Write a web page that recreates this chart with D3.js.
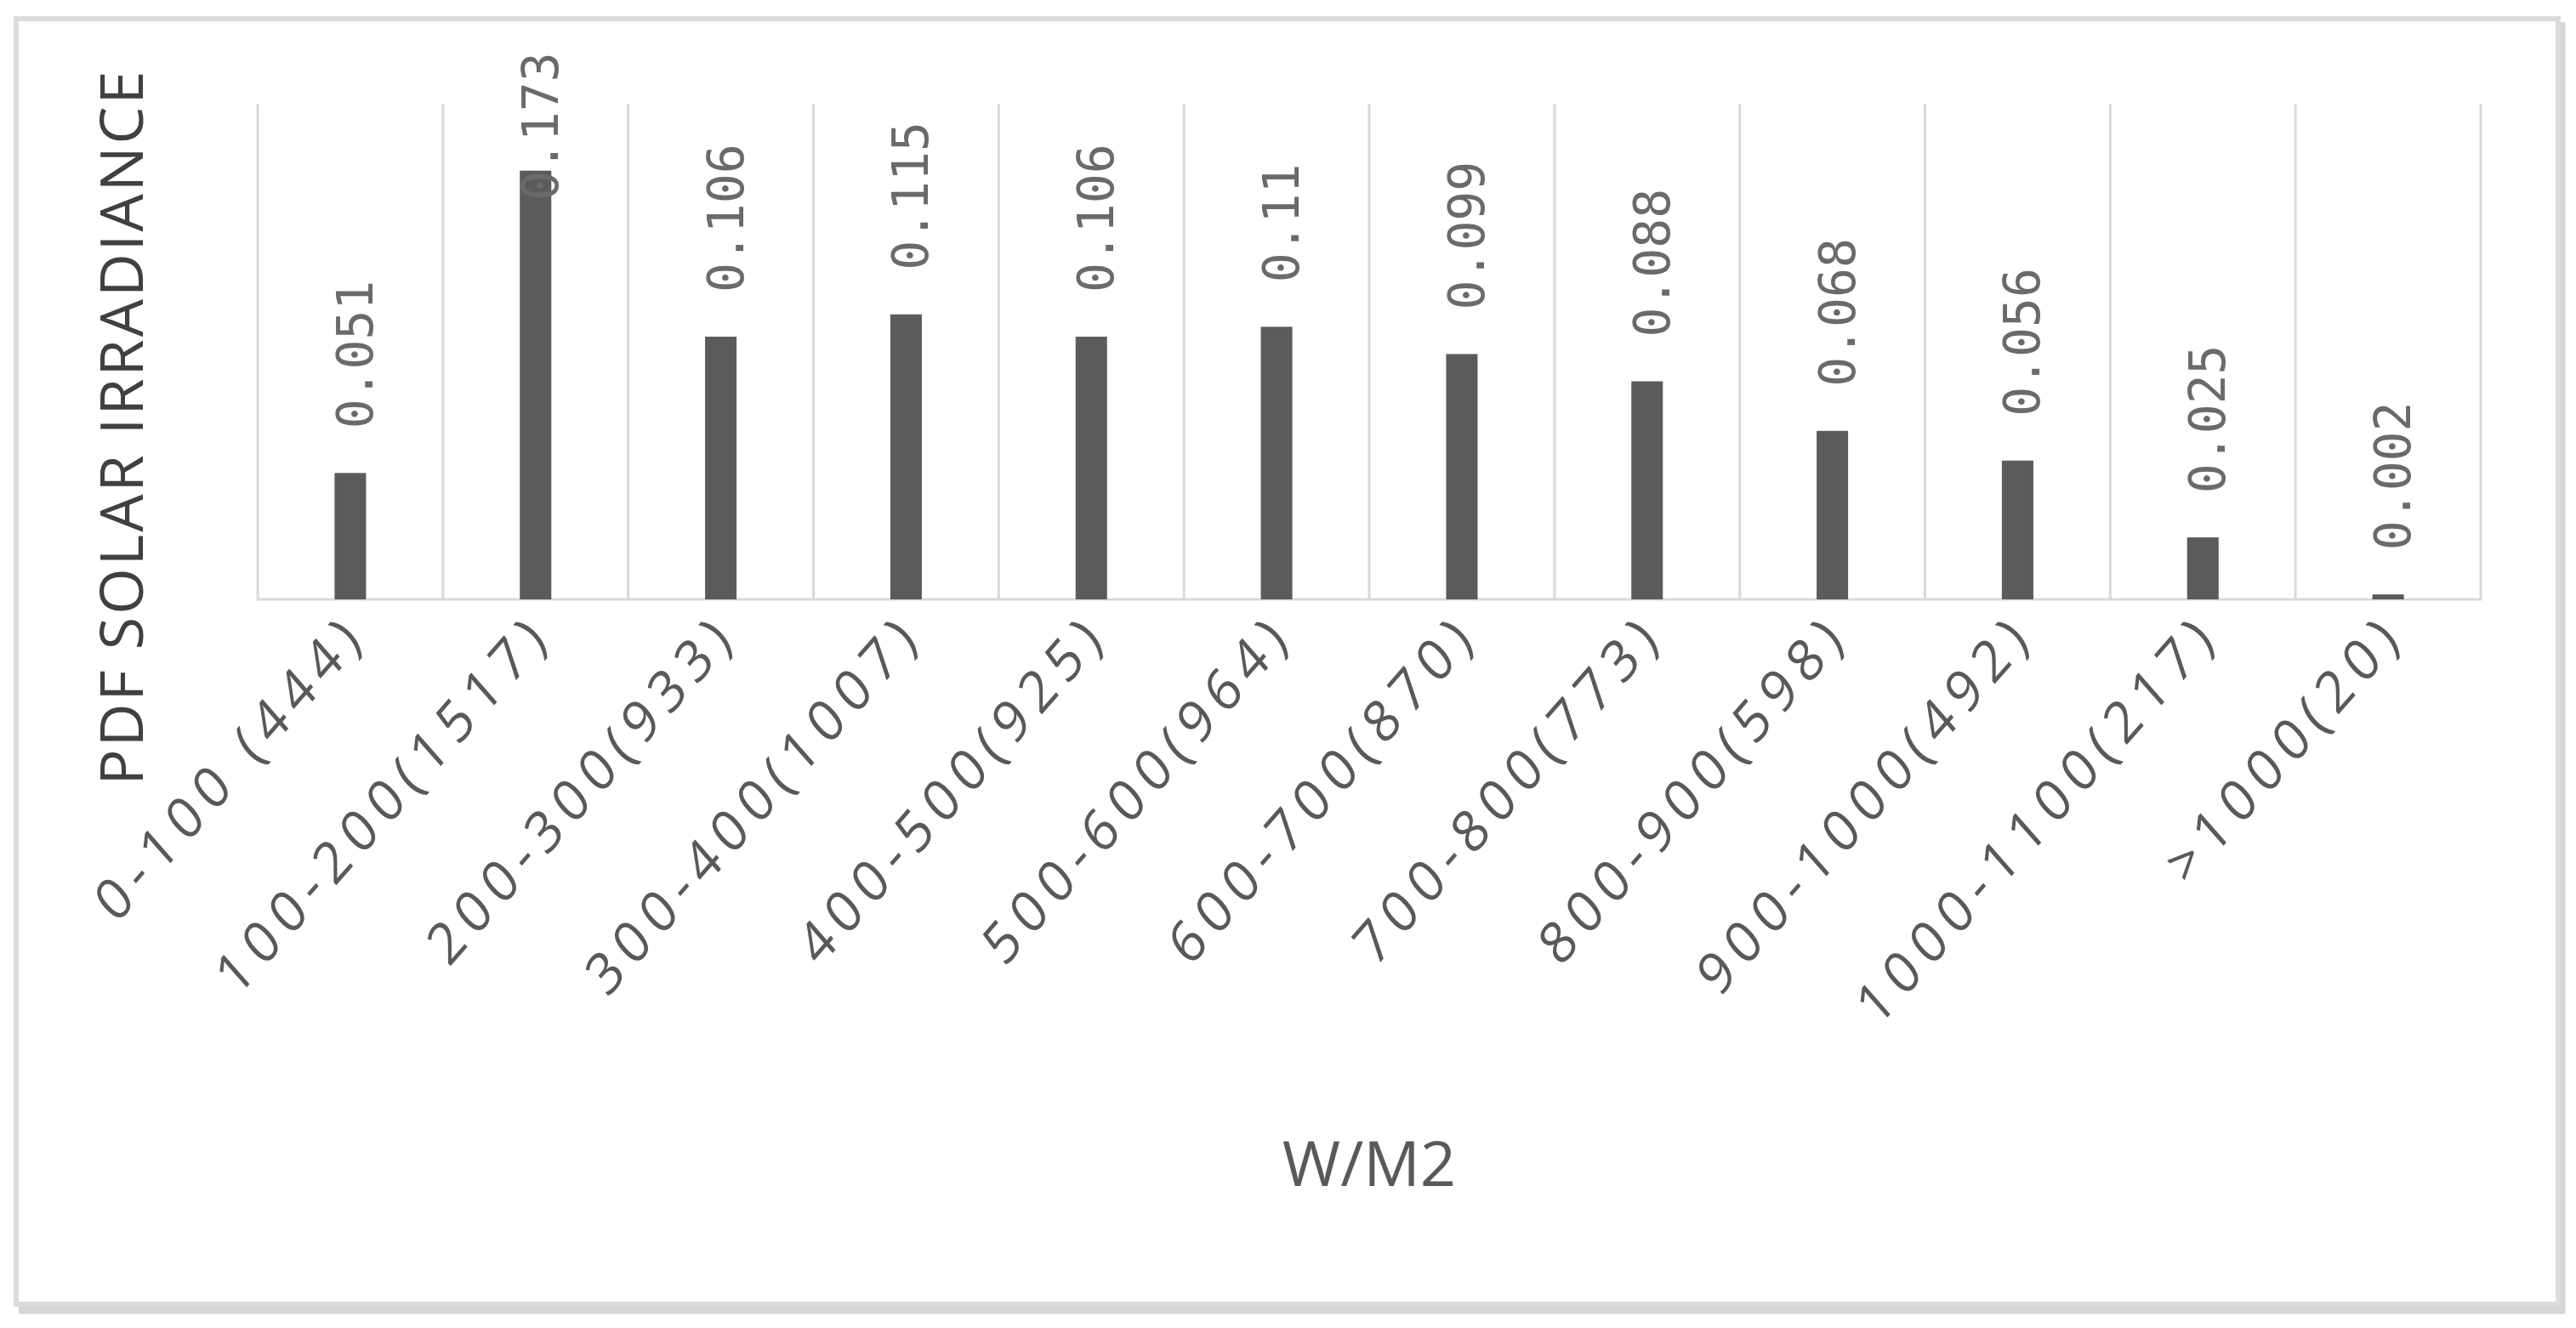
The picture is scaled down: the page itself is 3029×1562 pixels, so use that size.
<!DOCTYPE html>
<html>
<head>
<meta charset="utf-8">
<script src="https://cdnjs.cloudflare.com/ajax/libs/d3/7.8.5/d3.min.js"></script>
<style>
  body { margin: 0; background: #fff; }
  svg { display: block; }
</style>
</head>
<body>
<div class="container"></div>
<script>
const width = 3029,
    height = 1562,
    margin = { top: 122, right: 112, bottom: 857, left: 303 };

const categories = ['0-100 (444)', '100-200(1517)', '200-300(933)', '300-400(1007)', '400-500(925)',
    '500-600(964)', '600-700(870)', '700-800(773)', '800-900(598)', '900-1000(492)',
    '1000-1100(217)', '>1000(20)'];
const values = [0.051, 0.173, 0.106, 0.115, 0.106, 0.11, 0.099, 0.088, 0.068, 0.056, 0.025, 0.002];
const yDomain = [0, 0.2];
const yTitle = 'PDF SOLAR IRRADIANCE';
const xTitle = 'W/M2';

const data = categories.map((c, i) => ({ cat: c, val: values[i] }));

const svg = d3.select('.container')
    .append('svg')
    .attr('width', width)
    .attr('height', height);

// outer frame with a soft shadow on the right / bottom
svg.append('path')
    .attr('d', `M3012,26 V1541 H22`)
    .attr('fill', 'none')
    .attr('stroke', '#d6d6d6')
    .attr('stroke-width', 9);
svg.append('rect')
    .attr('x', 19).attr('y', 22)
    .attr('width', 2989).attr('height', 1512)
    .attr('fill', '#fff')
    .attr('stroke', '#dcdcdc')
    .attr('stroke-width', 6);

const x = d3.scaleBand()
    .domain(categories)
    .range([margin.left, width - margin.right]);

const y = d3.scaleLinear()
    .domain(yDomain)
    .range([height - margin.bottom, margin.top]);

const base = y(0);

// vertical gridlines between categories
const grid = svg.append('g').attr('class', 'grid');
grid.selectAll('line')
    .data(categories.concat(['__end']))
    .enter()
    .append('line')
    .attr('x1', d => d === '__end' ? x.range()[1] : x(d))
    .attr('x2', d => d === '__end' ? x.range()[1] : x(d))
    .attr('y1', y(yDomain[1]))
    .attr('y2', base)
    .attr('stroke', '#d9d9d9')
    .attr('stroke-width', 3);

grid.append('line')
    .attr('x1', x.range()[0] - 1.5)
    .attr('x2', x.range()[1] + 1.5)
    .attr('y1', base)
    .attr('y2', base)
    .attr('stroke', '#d9d9d9')
    .attr('stroke-width', 3);

const barW = x.bandwidth() * 0.17;

svg.append('g')
    .selectAll('rect')
    .data(data)
    .enter()
    .append('rect')
    .attr('x', d => x(d.cat) + x.bandwidth() / 2 - barW / 2)
    .attr('y', d => y(d.val))
    .attr('width', barW)
    .attr('height', d => base - y(d.val))
    .attr('fill', '#5b5b5b');

// value labels, rotated, pushed down when they would leave the chart
svg.append('g')
    .selectAll('text')
    .data(data)
    .enter()
    .append('text')
    .attr('transform', d => {
        const cx = x(d.cat) + x.bandwidth() / 2 + 26;
        const by = Math.max(y(d.val) - 52, 236);
        return `translate(${cx},${by}) rotate(-90)`;
    })
    .attr('text-anchor', 'start')
    .style('font-family', '"DejaVu Sans Mono", monospace')
    .style('font-size', '58px')
    .attr('fill', '#6a6a6a')
    .text(d => String(d.val));

// category axis
const xAxis = svg.append('g')
    .attr('transform', `translate(0,${base})`)
    .call(d3.axisBottom(x).tickSize(0).tickPadding(0));
xAxis.select('.domain').remove();
xAxis.selectAll('text')
    .attr('y', null)
    .attr('dy', null)
    .attr('text-anchor', 'end')
    .attr('transform', 'translate(22,44) scale(1,1.14) rotate(-45)')
    .style('font-family', '"Open Sans", sans-serif')
    .style('font-size', '60px')
    .style('letter-spacing', '10px')
    .attr('fill', '#595959');

// axis titles
svg.append('text')
    .attr('transform', `translate(168,502) rotate(-90)`)
    .attr('text-anchor', 'middle')
    .style('font-family', '"Open Sans", sans-serif')
    .style('font-size', '70px')
    .style('letter-spacing', '3px')
    .attr('fill', '#404040')
    .text(yTitle);

svg.append('text')
    .attr('x', (x.range()[0] + x.range()[1]) / 2)
    .attr('y', 1395)
    .attr('text-anchor', 'middle')
    .style('font-family', '"Open Sans", sans-serif')
    .style('font-size', '74px')
    .attr('fill', '#595959')
    .text(xTitle);
</script>
</body>
</html>
